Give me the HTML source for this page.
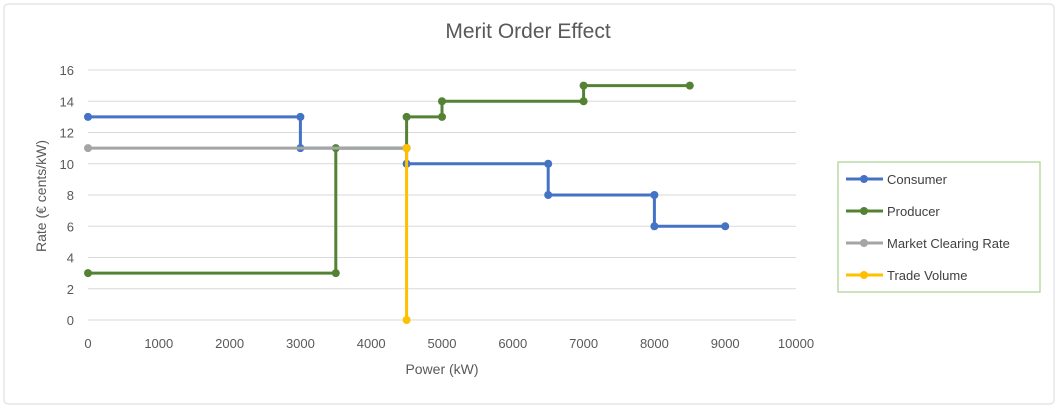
<!DOCTYPE html>
<html><head><meta charset="utf-8"><style>
body{margin:0;background:#fff;}
svg{font-family:"Liberation Sans",sans-serif;}
</style></head><body>
<svg id="c" width="1060" height="411">
<rect x="4" y="4" width="1050" height="400" rx="4" fill="#fff" stroke="#d9d9d9"/>
<text x="528" y="38" text-anchor="middle" font-size="21" fill="#595959">Merit Order Effect</text>
<g id="grid"></g><g id="ticks"></g><g id="series"></g>
<text x="442" y="374" text-anchor="middle" font-size="14" fill="#595959">Power (kW)</text>
<text transform="translate(46,196) rotate(-90)" text-anchor="middle" font-size="14" fill="#595959">Rate (€ cents/kW)</text>
<rect x="838" y="162" width="202" height="130" fill="#fff" stroke="#a9d18e" stroke-width="1.2"/>
<g id="legend"></g>
</svg>
<script>
const xTicks=[0,1000,2000,3000,4000,5000,6000,7000,8000,9000,10000];
const yTicks=[0,2,4,6,8,10,12,14,16];
const seriesNames=["Consumer","Producer","Market Clearing Rate","Trade Volume"];
const seriesColors=["#4472c4","#548235","#a5a5a5","#ffc000"];
const consumerX=[0,3000,3000,4500,4500,6500,6500,8000,8000,9000];
const consumerY=[13,13,11,11,10,10,8,8,6,6];
const producerX=[0,3500,3500,4500,4500,5000,5000,7000,7000,8500];
const producerY=[3,3,11,11,13,13,14,14,15,15];
const clearingX=[0,4500];
const clearingY=[11,11];
const tradeX=[4500,4500];
const tradeY=[0,11];
const sx=v=>88+v*(796-88)/10000;
const sy=v=>320-v*(320-70)/16;
const NS="http://www.w3.org/2000/svg";
function mk(t,a,p){const e=document.createElementNS(NS,t);for(const k in a)e.setAttribute(k,a[k]);p.appendChild(e);return e;}
const grid=document.getElementById('grid'),ticks=document.getElementById('ticks'),ser=document.getElementById('series'),leg=document.getElementById('legend');
yTicks.forEach(v=>{
 const l=mk('line',{x1:88,x2:796,y1:sy(v),y2:sy(v),stroke:'#d9d9d9'},grid);
 
 
 const t=mk('text',{x:74,y:sy(v)+5,'text-anchor':'end','font-size':13,fill:'#595959'},ticks);t.textContent=v;
 
 
});
xTicks.forEach(v=>{
 const t=mk('text',{x:sx(v),y:348,'text-anchor':'middle','font-size':13,fill:'#595959'},ticks);t.textContent=v;
 
 
});
const data=[[consumerX,consumerY],[producerX,producerY],[clearingX,clearingY],[tradeX,tradeY]];
data.forEach((d,i)=>{
 const g=mk('g',{},ser);
 
 
 const pts=d[0].map((x,j)=>sx(x)+','+sy(d[1][j])).join(' ');
 mk('polyline',{points:pts,fill:'none',stroke:seriesColors[i],'stroke-width':3},g);
 d[0].forEach((x,j)=>{
  const c=mk('circle',{cx:sx(x),cy:sy(d[1][j]),r:4,fill:seriesColors[i]},g);
  
  
 });
 const ly=179+i*32;
 const lg=mk('g',{},leg);
 
 
 mk('line',{x1:846,x2:883,y1:ly,y2:ly,stroke:seriesColors[i],'stroke-width':3},lg);
 mk('circle',{cx:864,cy:ly,r:4,fill:seriesColors[i]},lg);
 const t=mk('text',{x:887,y:ly+5,'font-size':13,fill:'#404040'},lg);t.textContent=seriesNames[i];
});
</script>
</body></html>
